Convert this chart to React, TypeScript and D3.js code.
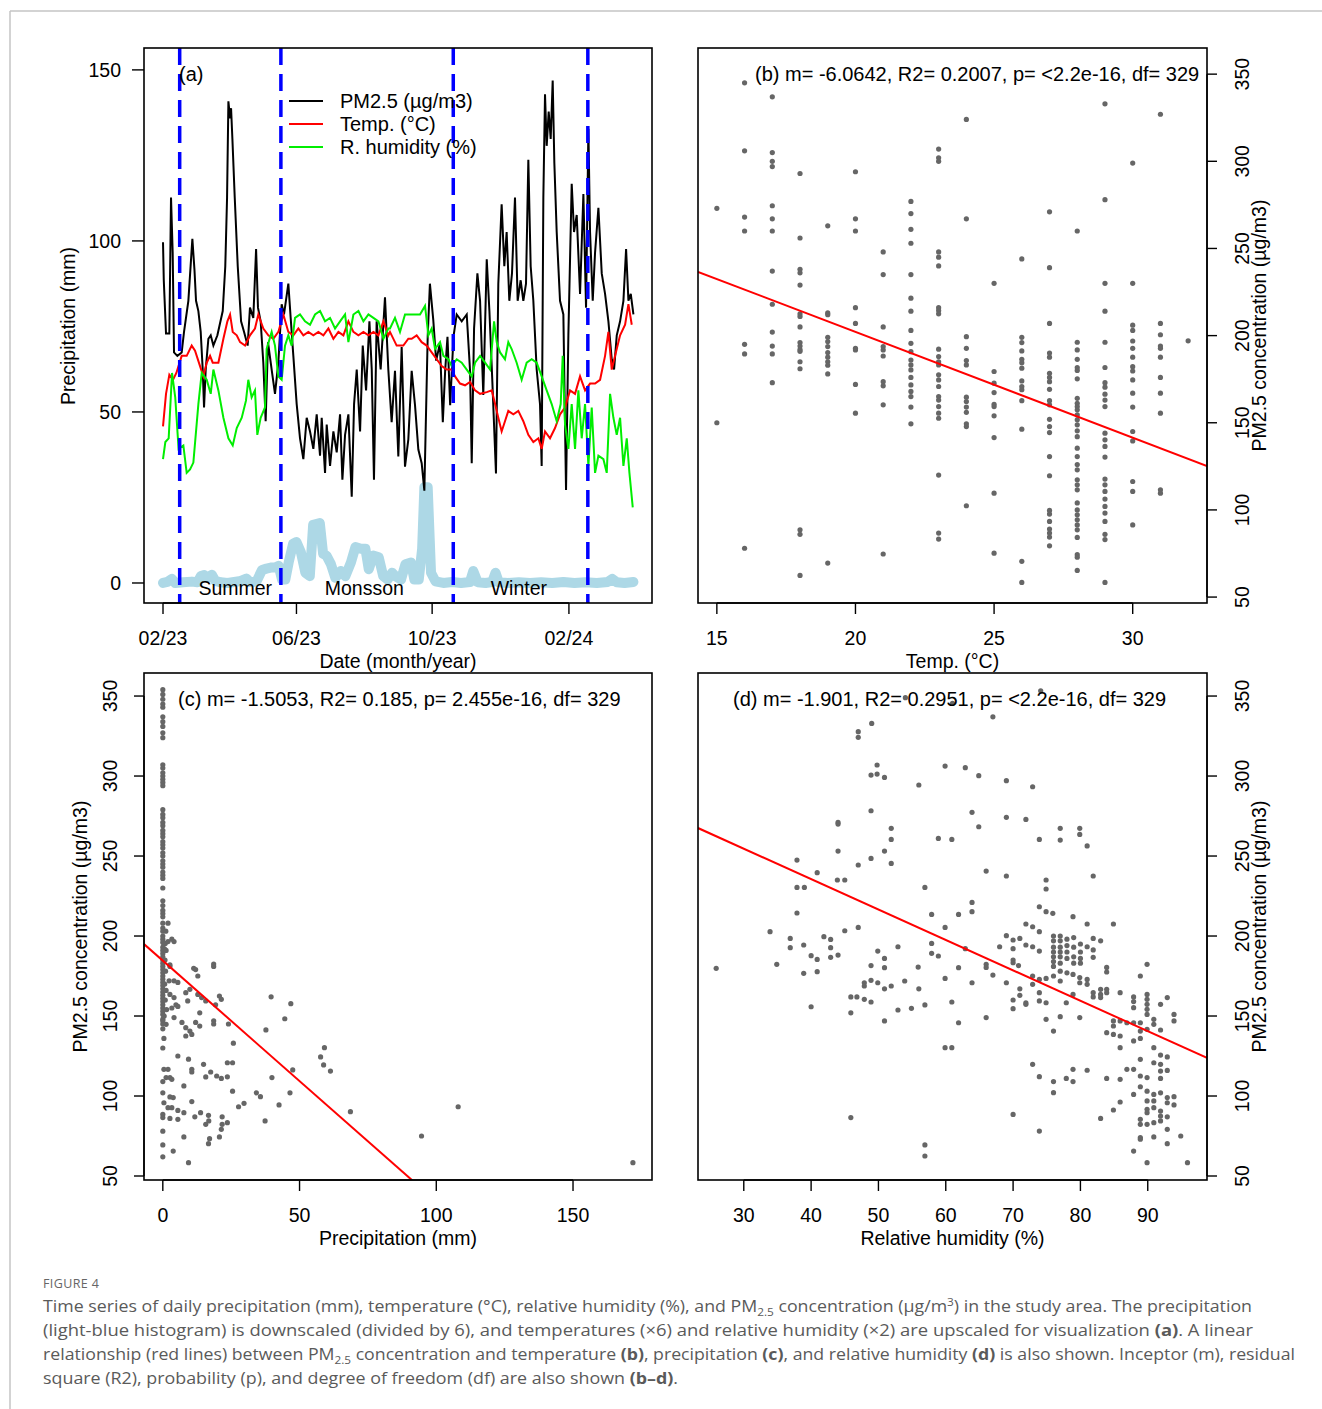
import React from "react";
import * as d3 from "d3";

const FONT = "'Liberation Sans', Arial, Helvetica, sans-serif";
const DAY = 864e5;
const START = Date.UTC(2023, 1, 1);

// (a) daily series, [days since 1 Feb 2023, plotted value]
const pm25Series = [
  [0, 99.6], [0.7, 88.5], [2.7, 72.9], [5.7, 72.9], [7.2, 112.7], [8.7, 96.6], [9.9, 67.4], [12.9, 66.4],
  [16.8, 67.4], [18.9, 73.4], [22.8, 82.5], [26.4, 100.6], [28.3, 91.5], [29.7, 82.5], [31.8, 79.5],
  [33.9, 73.4], [35.7, 62.4], [36.9, 51.3], [38.4, 62.4], [40.8, 71.4], [42.9, 72.4], [45.3, 69.4],
  [48.9, 72.4], [53.7, 79.5], [56, 92.6], [57.6, 112.7], [58.8, 140.8], [60.3, 135.8], [61.2, 138.8],
  [62.4, 129.8], [64.5, 112.7], [67.2, 92.6], [70.2, 76.5], [72.9, 73.4], [76.1, 69.4], [78.2, 80.5],
  [81.2, 77.5], [83.7, 97.6], [85.4, 80.5], [87.8, 76.5], [90.2, 64.4], [92.3, 47.3], [94.4, 70.4],
  [97.7, 62.4], [100.7, 55.3], [103.7, 64.4], [106.7, 81.5], [108.8, 78.5], [112.7, 87.5], [114.8, 77.5],
  [117.2, 66.4], [120.2, 52.3], [123.2, 42.3], [126.2, 36.2], [129.2, 48.3], [132.2, 44.3], [135.2, 39.2],
  [138.2, 49.3], [141.2, 37.2], [142.7, 48.3], [145.7, 32.2], [147.2, 46.3], [150.2, 34.2], [153.2, 44.3],
  [156.2, 38.2], [159.2, 49.3], [161.3, 30.2], [163.7, 43.3], [166.7, 49.3], [169.7, 25.2], [171.8, 52.3],
  [174.2, 62.4], [177.2, 44.3], [179.6, 69.4], [182.6, 56.3], [185.6, 76.5], [187.7, 62.4], [189.7, 30.2],
  [192.1, 76.5], [195.7, 62.4], [199.6, 83.5], [202.6, 62.4], [205.6, 47], [208.6, 62], [211.6, 37],
  [214.6, 69], [217.6, 34], [220.6, 42], [223.6, 62], [226.6, 52], [229.6, 39], [232.6, 35], [235, 27],
  [238, 72], [240, 87.5], [243, 77], [245.6, 65], [249, 70], [251.6, 47], [253.7, 62], [255.8, 72],
  [258.2, 52], [261.2, 72], [264.1, 78.5], [268.6, 76.5], [273.1, 78.5], [276.1, 62], [277.6, 35],
  [279.7, 74.4], [282.7, 90.5], [285.1, 82.5], [288, 55], [291.1, 94.6], [293.5, 79.5], [296, 60],
  [299.4, 32], [301.5, 87.5], [304.5, 110.7], [306.9, 92.6], [309, 102.6], [311.4, 82.5], [313.8, 90.5],
  [316.5, 112.7], [318.9, 82.5], [321.6, 88.5], [324, 82.5], [326.4, 87.5], [328.5, 123.7], [330.6, 92.6],
  [333, 82.5], [336, 62.4], [339, 52.3], [340.5, 34.2], [342, 112.7], [343.5, 142.9], [345, 127.8],
  [346.8, 137.8], [348.6, 129.8], [350.4, 146.9], [351.9, 122.7], [354, 102.6], [357, 82.5], [360, 78.5],
  [362.4, 27.2], [364.5, 72.4], [367.5, 116.7], [369.6, 102.6], [372, 107.6], [375, 84.5], [378, 113.7],
  [380.4, 80.5], [382.5, 132.8], [384, 102.6], [386.4, 82.5], [388.5, 96.6], [391.5, 109.7], [394.5, 90.5],
  [397.5, 84.5], [400.5, 76.5], [403.5, 65.4], [405.6, 62.4], [408, 72.4], [411, 76.5], [414, 82.5],
  [416.4, 97.6], [418.5, 82.5], [420.6, 84.5], [423, 78.5],
];

const tempSeries = [
  [0, 45.8], [2.7, 55.3], [5.7, 60.9], [9, 59.4], [12, 61.4], [16.8, 66.4], [21.3, 66.4], [25.8, 69.4],
  [28.8, 67.9], [33.3, 63.4], [36.3, 60.4], [39.3, 64.4], [42.3, 66.4], [44.7, 64.4], [49.8, 64.4],
  [54.3, 71.4], [57.9, 76.5], [60.3, 78.5], [62.7, 73.4], [66.3, 72.4], [69.3, 70.4], [73.8, 69.4],
  [78.2, 72.4], [82.7, 74.4], [85.7, 78.5], [90.2, 74.4], [94.7, 72.4], [99.2, 71.4], [103.7, 73.4],
  [108.2, 78.5], [112.7, 73.4], [117.2, 72.4], [121.7, 74.4], [126.2, 72.4], [130.7, 73.4], [135.2, 72.4],
  [139.7, 73.4], [144.2, 72.4], [148.7, 74.4], [153.2, 71.4], [157.7, 73.4], [162.2, 72.4], [166.7, 76.5],
  [171.2, 73.4], [175.7, 72.4], [180.2, 73.4], [184.7, 72.4], [189.2, 73.4], [193.7, 72.4], [198.2, 76.5],
  [202.6, 72.4], [204.1, 73.4], [210.1, 69.4], [216.1, 69.4], [220.6, 71.4], [223.6, 71.4], [228.1, 72.4],
  [232.6, 70.4], [237.1, 69.4], [241.6, 67.4], [246.1, 65.4], [250.6, 63.4], [255.1, 62.4], [259.6, 62.4],
  [262.6, 60.4], [267.1, 58.3], [271.6, 57.8], [276.1, 58.8], [280.6, 56.3], [285.1, 55.3], [291.1, 55.8],
  [295.6, 56.3], [298.6, 52.3], [301.5, 48.3], [304.5, 44.3], [307.5, 47.3], [310.5, 50.3], [315, 49.3],
  [319.5, 50.3], [324, 47.3], [328.5, 43.3], [333, 41.2], [337.5, 42.3], [340.5, 39.2], [343.5, 44.3],
  [348, 42.3], [352.5, 45.3], [357, 49.3], [361.5, 51.3], [366, 56.3], [370.5, 55.3], [375, 60.4],
  [379.5, 56.3], [384, 58.3], [388.5, 58.3], [393, 59.4], [397.5, 66.4], [400.5, 73.4], [403.5, 62.4],
  [406.5, 66.4], [411, 72.4], [415.5, 75.5], [418.5, 81.5], [421.5, 75.5],
];

const humiditySeries = [
  [0, 36.2], [2.1, 41.2], [5.1, 42.3], [8.1, 61.4], [11, 54.3], [14, 39.2], [18.3, 40.2], [21.3, 32.2],
  [24.3, 33.2], [27.3, 35.2], [31.8, 52.3], [34.8, 61.4], [39.3, 59.4], [42.9, 55.3], [45.3, 62.4],
  [49.8, 56.3], [54.3, 48.3], [58.8, 42.3], [62.7, 40.2], [66.3, 45.3], [70.8, 48.3], [74.6, 53.3],
  [76.7, 59.4], [79.7, 54.3], [82.7, 56.3], [84.8, 43.3], [87.8, 48.3], [91.7, 51.3], [93.2, 68.4],
  [97.7, 73.4], [100.7, 69.4], [103.7, 60.4], [106.7, 59.4], [109.7, 69.4], [112.7, 72.4], [115.7, 69.4],
  [118.7, 77.5], [123.2, 78.5], [127.7, 76.5], [132.2, 75.5], [136.7, 78.5], [141.2, 79.5], [145.7, 76.5],
  [150.2, 77.5], [154.7, 74.4], [159.2, 76.5], [163.7, 78.5], [166.7, 70.4], [171.2, 78.5], [175.7, 79.5],
  [180.2, 76.5], [184.7, 78.5], [189.2, 77.5], [193.7, 76.5], [198.2, 71.4], [202.6, 74.4], [204.1, 74.4],
  [208.6, 77.5], [213.1, 73.4], [217.6, 78.5], [222.1, 78.5], [226.6, 78.5], [231.1, 78.5], [235.6, 81],
  [238.6, 72.4], [241.6, 74.4], [244.6, 68.4], [249.1, 70.4], [252.1, 66.4], [256.6, 65.4], [259.6, 63.4],
  [264.1, 65.4], [268.6, 64.4], [273.1, 62.4], [277.6, 60.4], [280.6, 64.4], [285.1, 66.4], [289.6, 64.4],
  [294.1, 62.4], [297.7, 76.5], [300.1, 70.4], [303.1, 67.4], [307.5, 65.4], [310.5, 70.4], [313.5, 68.4],
  [318, 64.4], [322.5, 59.4], [327, 64.4], [331.5, 65.4], [336, 64.4], [340.5, 60.4], [345, 56.3],
  [349.5, 52.3], [354, 47.3], [357.6, 52.3], [359.4, 66.4], [361.5, 46.3], [364.5, 39.2], [367.5, 52.3],
  [370.5, 39.2], [373.5, 56.3], [376.5, 42.3], [379.5, 52.3], [382.5, 34.2], [385.5, 51.3], [388.5, 32.2],
  [391.5, 37.2], [396, 36.2], [399, 32.2], [402, 55.3], [405, 48.3], [408, 43.3], [411, 48.3], [414, 34.2],
  [417, 42.3], [419.4, 32.2], [422.4, 22.1],
];

const precipSeries = [
  [0, 0], [4, 0.3], [8, 1.2], [11, 0], [18, 0.2], [26, 0.4], [31, 0.2], [34, 2], [37, 2.3], [40, 1.6],
  [44, 2.4], [47, 0.6], [52, 0.2], [58, 0], [64, 0.3], [70, 0.6], [75, 1.3], [78, 0.3], [84, 0.4],
  [89, 3.8], [93, 4.2], [97, 4.5], [101, 4.6], [104, 5], [107, 1], [110, 1], [113, 6], [117, 11.5],
  [120, 12], [124, 9], [128, 3], [132, 2], [135, 17], [141, 17.5], [144, 8.5], [147, 8], [151, 5.5],
  [155, 1.5], [160, 3.5], [164, 2], [169, 6], [173, 10.5], [178, 10], [182, 10], [185, 4], [189, 8],
  [194, 7.5], [198, 2], [202, 1], [206, 3], [209, 2], [214, 1], [218, 5.5], [223, 6], [226, 1], [230, 1],
  [233, 10], [235, 28], [238, 28], [241, 3], [245, 0.5], [252, 0], [260, 0.3], [268, 0], [276, 0.3],
  [279, 3.5], [283, 0.2], [290, 0], [296, 0.3], [299, 3], [302, 0.2], [310, 0], [320, 0.2], [330, 0],
  [340, 0.2], [350, 0], [360, 0.3], [370, 0], [380, 0.2], [390, 0], [400, 0.3], [404, 1.2], [408, 0.2],
  [415, 0], [423, 0.3],
];

const seasonBreaks = ["2023-02-16", "2023-05-18", "2023-10-20", "2024-02-18"];
const monthTicks = ["2023-02-01", "2023-06-01", "2023-10-01", "2024-02-01"];
const monthLabels = ["02/23", "06/23", "10/23", "02/24"];
const seasonNames = ["Summer", "Monsson", "Winter"];
const seasonLabelDates = ["2023-04-07", "2023-08-01", "2023-12-18"];
const seasonLabelLevel = -3.4;
const precipTicks = [0, 50, 100, 150];
const legendItems = [
  { label: "PM2.5 (µg/m3)", color: "#000000" },
  { label: "Temp. (°C)", color: "#ff0000" },
  { label: "R. humidity (%)", color: "#00ee00" },
];

// (b) temperature (°C) → PM2.5 values observed at that temperature
const tempGroups: [number, number[]][] = [
  [15, [273, 150]],
  [16, [345, 306, 268, 260, 195, 189.5, 78]],
  [17, [337, 305, 300, 297, 274.5, 267, 260, 237, 218, 202, 194, 189.5, 173]],
  [18, [293, 256, 238, 236, 229, 212.5, 211, 205, 196, 194, 192, 191, 185, 181, 88.6, 86, 62.4]],
  [19, [263, 213, 212, 199, 196.6, 193.7, 190.3, 187.6, 185, 183, 178, 69.5]],
  [20, [294, 267, 260, 216, 207, 192.7, 191.8, 172, 155.5]],
  [21, [248, 235, 205, 193.7, 191.8, 188.3, 173.6, 171.2, 160.3, 74.7]],
  [22, [277, 270, 261, 253, 235, 221.5, 214, 203, 195.6, 190.8, 186, 183.2, 180.3, 176, 171.7, 168, 165, 159, 149.4]],
  [23, [307, 302, 300, 248, 245, 240, 216, 214.4, 212.5, 192.2, 188, 185, 183.2, 177.5, 174.6, 170.8, 165, 163, 159.3, 155.5, 152.6, 120, 86.7, 83.3]],
  [24, [324, 267, 199.4, 192.7, 185.7, 183.2, 164.7, 162.2, 159, 156, 149.4, 147.8, 102.4]],
  [25, [230, 179.4, 172.7, 167.3, 160.6, 159.3, 154, 141.5, 109.6, 75.2]],
  [26, [244, 199, 196, 191.2, 186.4, 184.5, 181.3, 174, 170.8, 169, 162.7, 146.3, 70.5, 58.4]],
  [27, [271, 239, 207, 190, 187.6, 178.4, 176, 173.6, 169.2, 162.7, 160.3, 152, 147.8, 144.4, 130.6, 119.6, 99.7, 97.6, 93.4, 89, 86.7, 84.4, 79.4]],
  [28, [260, 196.2, 191.8, 186.4, 181.7, 180, 175.2, 164, 161.2, 159.3, 157.4, 154.5, 151.7, 148.8, 145.4, 142, 135.4, 130.6, 126, 123, 117.3, 114.4, 111.5, 104, 100, 97.2, 94.3, 91.4, 88.6, 84.2, 74.3, 72.9, 65.3]],
  [29, [333, 278, 230, 214, 196.2, 181.7, 173, 170.4, 166.4, 163, 159.3, 144, 140.2, 136.4, 130.3, 117.7, 114.4, 110.6, 106.2, 102, 98.2, 93.4, 86, 83, 58.4]],
  [30, [299, 230, 206, 203, 196.9, 192.7, 187.6, 182.2, 179.7, 174.6, 167, 159, 145, 139.6, 116.3, 110.6, 91.4]],
  [31, [327, 207, 200.5, 194, 192.7, 187.6, 176, 167, 155.5, 111.5, 109.6]],
  [32, [197]],
];

// (c) days without rain, PM2.5
const dryDayPm = [
  354, 351, 348, 345, 343, 337, 334, 331, 327, 324, 307, 305, 302, 300, 298, 296, 294, 279, 276, 274, 271,
  269, 266, 264, 262, 259, 257, 255, 252, 250, 247, 245, 243, 240, 238, 236, 230, 222, 219, 216, 214, 212,
  208, 205, 203, 200, 198, 196, 193, 191, 189, 187, 185, 183, 181, 179, 177, 175, 173, 171, 169, 167, 165,
  163, 161, 159, 157, 155, 153, 151, 148, 146.9, 145, 142, 130, 109, 102, 88.5, 86.5, 78, 69.4, 62,
];
// (c) rainy days, [precipitation mm, PM2.5]
const rainyDayPm = [
  [0.6, 192], [0.8, 185], [1, 178], [0.7, 170], [1.2, 166], [0.9, 160], [1.4, 154], [0.5, 150], [1.1, 203],
  [1.9, 208], [0.9, 195.4], [1.9, 196.5], [3.3, 198], [4.1, 196.5], [1.2, 191], [2.6, 182], [11.3, 179.8],
  [18.6, 182.5], [2.6, 181], [2.3, 172], [4.1, 172], [5.5, 171], [2.6, 163.5], [4.1, 161.5], [4.8, 157],
  [3.3, 155], [5.5, 156], [4.1, 149], [7, 146], [8.4, 142.7], [8.4, 137.5], [9.9, 140.6], [10.6, 138.5],
  [12, 146], [13.5, 143.7], [13.5, 152], [12.8, 163.5], [12, 179], [12.8, 175], [8.4, 164.6], [9.9, 166.7],
  [9.1, 159.4], [18.6, 181], [14.2, 161.5], [15.7, 159.4], [19.3, 157], [20.7, 162.5], [21.4, 160.4],
  [18.6, 147], [18.6, 145], [24, 145], [25.8, 133], [5.5, 125], [9.4, 123], [10.6, 116.7], [10.6, 115],
  [14.9, 119.8], [15.7, 111.9], [17.5, 115], [19.7, 112.5], [21.4, 111], [23.6, 112], [23.6, 120.8],
  [25.5, 120.8], [0.4, 116.7], [1.9, 116.7], [1.2, 111.5], [2.6, 111.5], [3.3, 110.4], [7.7, 106.3],
  [2.6, 99.4], [3.8, 99], [0.4, 95.8], [1.9, 92.7], [3.3, 92.7], [5.5, 91], [7.7, 89.6], [10.6, 96.5],
  [2.6, 86], [5.5, 85.4], [11.7, 87], [13.8, 89.6], [16.7, 87.9], [16.8, 84.4], [15.7, 82.3], [21.7, 87],
  [21.7, 82.3], [23.6, 83.3], [21.4, 79.2], [20.7, 74.4], [17.1, 73.3], [16.7, 70.2], [7.7, 74.4],
  [3.8, 65.6], [9.4, 58.3], [25.5, 103], [27.7, 93.3], [29.7, 95.4], [34.2, 102], [35.7, 99.6], [39.6, 162],
  [37.7, 141.3], [39.9, 111.5], [37.4, 84.4], [42.5, 94.4], [44.6, 148.3], [46.8, 157.7], [47.5, 116.3],
  [46.5, 102], [57.7, 124.4], [59.1, 130.2], [58.8, 119.4], [61.3, 115.6], [68.6, 90.2], [94.6, 75],
  [108, 93.3], [171.9, 58.3], [0.4, 136], [1.2, 144.8],
];

// (d) [relative humidity %, PM2.5]
const humidityPm = [
  [49, 332.9], [47, 327.7], [47, 324.2], [67, 337], [61, 345.4], [54, 349], [74.1, 353.3], [49.8, 306.9],
  [48.9, 300.6], [49.8, 301.2], [50.9, 299.1], [56, 294.4], [59.9, 306.2], [62.9, 305.2], [64.9, 300.2],
  [69, 297.1], [72.9, 293.3], [48.9, 278.3], [63.9, 277.3], [69, 274.2], [71.9, 272.9], [44, 271], [44, 270],
  [51.9, 267.3], [64.9, 268.3], [77, 267.3], [77, 260], [79.9, 267.3], [79.9, 263.5], [51.9, 260.4],
  [58.9, 261], [60.9, 260.4], [73.9, 260.4], [81, 256.3], [50.9, 253.1], [44, 253.1], [37.9, 247.5],
  [48.9, 248.5], [47, 244.4], [51.9, 245.4], [40.9, 239.6], [66, 240.6], [69, 237.5], [81.9, 237.5],
  [43.9, 235], [45, 235], [37.9, 230.4], [39, 230.4], [56.9, 230.4], [74.9, 235], [74.9, 229.4],
  [37.9, 214.4], [63.9, 221], [63.9, 215.2], [57.9, 213.5], [61.9, 213.5], [73.9, 218.3], [74.9, 215.2],
  [75.9, 214.2], [78.9, 212.1], [33.9, 202.7], [36.9, 198.5], [36.9, 192.7], [38.9, 194.4], [41.9, 199.6],
  [42.9, 197.9], [42.9, 192.7], [45, 203.3], [47, 205.4], [59.9, 205.4], [57.9, 195.4], [57.9, 189.2],
  [52.9, 193.3], [49.9, 190.6], [40, 187.7], [40.9, 185.4], [42.9, 186.7], [44, 188.1], [58.9, 187.5],
  [62.9, 192.1], [69, 200.2], [71, 198.5], [70, 197.5], [70, 192.1], [68, 193.3], [71.9, 207.5],
  [72.9, 205.8], [73.9, 202.7], [71.9, 194.4], [72.9, 193.3], [73.9, 190.6], [76, 200], [76, 197], [76, 193],
  [76, 190], [76, 187], [76, 184], [76, 181], [77, 200], [77, 197], [77, 193], [77, 190], [77, 187], [77, 183],
  [78, 198], [78, 194], [78, 190], [78, 186], [79, 199], [79, 193], [79, 187], [79, 183], [80, 195], [80, 190],
  [80, 186], [80, 183], [81, 193.3], [81, 207.5], [81.9, 198.5], [83, 197], [84.9, 207.5], [89.9, 182.3],
  [25.9, 179.8], [34.9, 182.3], [48.9, 181.5], [50.9, 180.2], [55.9, 180.6], [61.9, 180.2], [66, 182.3],
  [66, 180.4], [70.8, 181.5], [81.9, 186.7], [81.9, 191.3], [83.9, 180.4], [70, 185], [38.9, 176.7],
  [40.9, 177.7], [40, 155.8], [45.9, 161.9], [45.9, 152], [46.8, 161.9], [47.9, 160.4], [47.9, 170.8],
  [47.9, 168.75], [48.9, 172.3], [49.9, 170.8], [50.9, 186], [51.9, 168.75], [50.9, 167], [48.9, 158.75],
  [50.9, 146.9], [52.9, 153.75], [53.9, 171.9], [54.9, 154.8], [56, 167], [56.9, 156.9], [59.9, 173.5],
  [60.9, 158.75], [61.9, 145.8], [59.9, 130.2], [60.9, 130.2], [63.9, 170.8], [67, 175.6], [66, 149],
  [69, 170.8], [70, 183.3], [70, 160], [70, 154.6], [71, 167], [71, 162.9], [71.9, 158.3], [71.9, 157.3],
  [72.9, 175], [72.9, 169.8], [73.9, 172.9], [73.9, 164.6], [73.9, 159.4], [74.9, 158.3], [74.9, 173.5],
  [76, 175], [77, 178], [78, 177], [77, 171.9], [74.9, 147.9], [76, 140.6], [77, 149.6], [77.9, 158.3],
  [78.9, 176], [79.9, 174], [79.9, 170.8], [81, 172.9], [81, 169.8], [78.9, 163.5], [79.9, 149],
  [81.9, 164.6], [83, 166.7], [83.9, 166.7], [81.9, 161.9], [83, 163.5], [83.9, 164.6], [83.9, 177.5],
  [83, 161.5], [84.9, 146.9], [84.9, 143.75], [85.9, 164.6], [85.9, 146.9], [86.9, 145.8], [87.9, 161.9],
  [87.9, 159], [87.9, 155.2], [88.9, 175], [89.9, 163.5], [89.9, 160.4], [89.9, 157.3], [89.9, 154.2],
  [89.9, 151], [90.9, 147.9], [90.9, 144.8], [91.9, 157.3], [91.9, 141.25], [92.9, 161.5], [93.9, 151],
  [93.9, 146.9], [87.9, 145.8], [88.9, 145.8], [88.9, 140.6], [89.9, 141.7], [83.9, 139.6], [84.9, 138.5],
  [85.9, 137.5], [85.9, 130.2], [88.9, 136], [87.9, 134.4], [90.9, 130.2], [72.9, 119.8], [73.9, 112.1],
  [76, 109], [76, 102.1], [77.9, 111], [78.9, 109], [78.9, 116.7], [81, 116.1], [83.9, 111], [85.9, 110.4],
  [86.9, 116.7], [87.9, 116.7], [88.9, 122.9], [88.9, 112.5], [89.9, 111.5], [90.9, 120.8], [91.9, 125.6],
  [91.9, 119.8], [91.9, 115.6], [91.9, 111], [92.9, 124.4], [92.9, 116], [83, 86], [84.9, 91.25],
  [85.9, 96.25], [87.9, 101], [88.9, 105.8], [89.9, 103], [89.9, 96.9], [89.9, 91.7], [89.9, 89.6],
  [90.9, 101], [90.9, 96.9], [90.9, 92.7], [90.9, 83.3], [90.9, 74.4], [91.9, 102], [91.9, 90.6],
  [91.9, 87.5], [91.9, 84.4], [92.9, 99], [92.9, 95.8], [92.9, 87], [92.9, 79.2], [92.9, 70.2], [93.9, 99.6],
  [93.9, 94.4], [88.9, 85.4], [88.9, 82.3], [89.9, 82.3], [88.9, 74], [88.9, 73], [87.9, 65.6], [89.9, 58.3],
  [94.9, 75], [95.9, 58.3], [45.9, 86.5], [56.9, 69.4], [56.9, 62.5], [70, 88.5], [73.9, 78.1],
];

// fitted lines, PM2.5 = intercept + slope * x
const fitTemp = { intercept: 323.4, slope: -6.0642 };
const fitPrecip = { intercept: 184.6, slope: -1.5053 };
const fitHumidity = { intercept: 311.6, slope: -1.901 };

const pmTicks = [50, 100, 150, 200, 250, 300, 350];
const tempTicks = [15, 20, 25, 30];
const precipMmTicks = [0, 50, 100, 150];
const humidityTicks = [30, 40, 50, 60, 70, 80, 90];

const FS = 19.5; // ticks and axis titles
const FS_NOTE = 20; // legend and panel notes
const utc = (s: string) => new Date(s + "T00:00:00Z");
const dayDate = (d: number) => new Date(START + d * DAY);

function PanelA() {
  const L = 144, R = 652, T = 48, B = 603;
  const x = d3.scaleUtc().domain([dayDate(-17.09), dayDate(439.7)]).range([L, R]);
  const y = d3.scaleLinear().domain([-5.85, 156.4]).range([B, T]);
  const ln = d3.line<number[]>().x((d) => x(dayDate(d[0]))).y((d) => y(d[1]));
  return (
    <g fontFamily={FONT} fontSize={FS}>
      <defs>
        <clipPath id="clipA"><rect x={L} y={T} width={R - L} height={B - T} /></clipPath>
      </defs>
      <g clipPath="url(#clipA)">
        <path d={ln(precipSeries) || ""} fill="none" stroke="#add8e6" strokeWidth={10} strokeLinejoin="round" strokeLinecap="round" />
        <path d={ln(pm25Series) || ""} fill="none" stroke="#000" strokeWidth={2} />
        <path d={ln(tempSeries) || ""} fill="none" stroke="#ff0000" strokeWidth={2} />
        <path d={ln(humiditySeries) || ""} fill="none" stroke="#00ee00" strokeWidth={2} />
      </g>
      {seasonNames.map((s, i) => (
        <text key={s} x={x(utc(seasonLabelDates[i]))} y={y(seasonLabelLevel)} textAnchor="middle">{s}</text>
      ))}
      {seasonBreaks.map((s) => (
        <line key={s} x1={x(utc(s))} x2={x(utc(s))} y1={T} y2={B} stroke="#0000ff" strokeWidth={3.5} strokeDasharray="17 9" />
      ))}
      <text x={179} y={81} fontSize={FS_NOTE}>(a)</text>
      {legendItems.map((it, i) => (
        <g key={it.label}>
          <line x1={289} x2={323} y1={101 + i * 23} y2={101 + i * 23} stroke={it.color} strokeWidth={2} />
          <text x={340} y={108 + i * 23} fontSize={FS_NOTE}>{it.label}</text>
        </g>
      ))}
      <rect x={L} y={T} width={R - L} height={B - T} fill="none" stroke="#000" strokeWidth={1.6} />
      {precipTicks.map((t) => (
        <g key={t}>
          <line x1={132} x2={L} y1={y(t)} y2={y(t)} stroke="#000" strokeWidth={1.4} />
          <text x={121} y={y(t)} dy="0.35em" textAnchor="end">{t}</text>
        </g>
      ))}
      {monthTicks.map((m, i) => (
        <g key={m}>
          <line x1={x(utc(m))} x2={x(utc(m))} y1={B} y2={B + 11} stroke="#000" strokeWidth={1.4} />
          <text x={x(utc(m))} y={645} textAnchor="middle">{monthLabels[i]}</text>
        </g>
      ))}
      <line x1={x(utc(monthTicks[0]))} x2={x(utc(monthTicks[3]))} y1={B} y2={B} stroke="#000" strokeWidth={1.4} />
      <text transform="translate(75,326) rotate(-90)" textAnchor="middle">Precipitation (mm)</text>
      <text x={398} y={668} textAnchor="middle">Date (month/year)</text>
    </g>
  );
}

type ScatterProps = {
  id: string;
  L: number; R: number; T: number; B: number;
  xDomain: [number, number];
  yDomain: [number, number];
  points: number[][];
  fit: { intercept: number; slope: number };
  xTicks: number[];
  side: "left" | "right";
  xTitle: string;
  note: string;
  noteX: number;
};

function Scatter(p: ScatterProps) {
  const x = d3.scaleLinear().domain(p.xDomain).range([p.L, p.R]);
  const y = d3.scaleLinear().domain(p.yDomain).range([p.B, p.T]);
  const fitLine = d3.line<number>().x((v) => x(v)).y((v) => y(p.fit.intercept + p.fit.slope * v));
  const mid = (p.T + p.B) / 2;
  const axisX = p.side === "right" ? p.R : p.L;
  const dir = p.side === "right" ? 1 : -1;
  const labelX = p.side === "right" ? p.R + 35 : p.L - 34;
  const titleX = p.side === "right" ? p.R + 59 : p.L - 57;
  const yTicks = pmTicks.filter((t) => t >= p.yDomain[0] && t <= p.yDomain[1]);
  return (
    <g fontFamily={FONT} fontSize={FS}>
      <defs>
        <clipPath id={p.id}><rect x={p.L} y={p.T} width={p.R - p.L} height={p.B - p.T} /></clipPath>
      </defs>
      <g clipPath={`url(#${p.id})`}>
        {p.points.map((d, i) => (
          <circle key={i} cx={x(d[0])} cy={y(d[1])} r={2.6} fill="#666" />
        ))}
        <path d={fitLine(p.xDomain) || ""} stroke="#ff0000" strokeWidth={2} fill="none" />
      </g>
      <text x={p.noteX} y={p.T + 33} fontSize={FS_NOTE}>{p.note}</text>
      <rect x={p.L} y={p.T} width={p.R - p.L} height={p.B - p.T} fill="none" stroke="#000" strokeWidth={1.6} />
      <line x1={axisX} x2={axisX} y1={y(yTicks[0])} y2={y(yTicks[yTicks.length - 1])} stroke="#000" strokeWidth={1.4} />
      {yTicks.map((t) => (
        <g key={t}>
          <line x1={axisX} x2={axisX + dir * 10} y1={y(t)} y2={y(t)} stroke="#000" strokeWidth={1.4} />
          <text transform={`translate(${labelX},${y(t)}) rotate(-90)`} dy="0.35em" textAnchor="middle">{t}</text>
        </g>
      ))}
      <line x1={x(p.xTicks[0])} x2={x(p.xTicks[p.xTicks.length - 1])} y1={p.B} y2={p.B} stroke="#000" strokeWidth={1.4} />
      {p.xTicks.map((t) => (
        <g key={t}>
          <line x1={x(t)} x2={x(t)} y1={p.B} y2={p.B + 11} stroke="#000" strokeWidth={1.4} />
          <text x={x(t)} y={p.B + 42} textAnchor="middle">{t}</text>
        </g>
      ))}
      <text transform={`translate(${titleX},${mid}) rotate(-90)`} textAnchor="middle">PM2.5 concentration (µg/m3)</text>
      <text x={(p.L + p.R) / 2} y={p.B + 65} textAnchor="middle">{p.xTitle}</text>
    </g>
  );
}

function Caption() {
  const lh = 24;
  const y0 = 1312;
  return (
    <g fontFamily="'Open Sans', 'Noto Sans', sans-serif" fill="#5a5a5a" fontSize={16.5}>
      <text x={43} y={1288} fontSize={12.5} letterSpacing={0.4} fill="#666">FIGURE 4</text>
      <text x={43} y={y0} textLength={1209} lengthAdjust="spacingAndGlyphs">
        Time series of daily precipitation (mm), temperature (°C), relative humidity (%), and PM
        <tspan dy={4} fontSize={11}>2.5</tspan>
        <tspan dy={-4}> concentration (µg/m</tspan>
        <tspan dy={-6} fontSize={11}>3</tspan>
        <tspan dy={6}>) in the study area. The precipitation</tspan>
      </text>
      <text x={43} y={y0 + lh} textLength={1210} lengthAdjust="spacingAndGlyphs">
        (light-blue histogram) is downscaled (divided by 6), and temperatures (×6) and relative humidity (×2) are upscaled for visualization{" "}
        <tspan fontWeight="bold">(a)</tspan>. A linear
      </text>
      <text x={43} y={y0 + 2 * lh} textLength={1252} lengthAdjust="spacingAndGlyphs">
        relationship (red lines) between PM
        <tspan dy={4} fontSize={11}>2.5</tspan>
        <tspan dy={-4}> concentration and temperature </tspan>
        <tspan fontWeight="bold">(b)</tspan>, precipitation <tspan fontWeight="bold">(c)</tspan>, and relative humidity{" "}
        <tspan fontWeight="bold">(d)</tspan> is also shown. Inceptor (m), residual
      </text>
      <text x={43} y={y0 + 3 * lh} textLength={635} lengthAdjust="spacingAndGlyphs">
        square (R2), probability (p), and degree of freedom (df) are also shown <tspan fontWeight="bold">(b–d)</tspan>.
      </text>
    </g>
  );
}

export default function App() {
  const tempPoints = tempGroups.flatMap(([t, vals]) => vals.map((v) => [t, v]));
  const precipPoints = [...dryDayPm.map((v) => [0, v]), ...rainyDayPm];
  return (
    <svg width={1322} height={1409} style={{ position: "absolute", left: 0, top: 0, background: "#fff" }}>
      <rect width={1322} height={1409} fill="#fff" />
      <line x1={10} x2={1322} y1={11} y2={11} stroke="#c4c4c4" strokeWidth={1.5} />
      <line x1={10} x2={10} y1={11} y2={1409} stroke="#c4c4c4" strokeWidth={1.5} />
      <PanelA />
      <Scatter
        id="clipB" L={698} R={1207} T={48} B={603}
        xDomain={[14.32, 32.68]} yDomain={[46.6, 365]}
        points={tempPoints} fit={fitTemp} xTicks={tempTicks} side="right"
        xTitle="Temp. (°C)" note="(b) m= -6.0642, R2= 0.2007, p= <2.2e-16, df= 329" noteX={755}
      />
      <Scatter
        id="clipC" L={144} R={652} T={673} B={1180}
        xDomain={[-6.88, 178.88]} yDomain={[47.5, 364.4]}
        points={precipPoints} fit={fitPrecip} xTicks={precipMmTicks} side="left"
        xTitle="Precipitation (mm)" note="(c) m= -1.5053, R2= 0.185, p= 2.455e-16, df= 329" noteX={178}
      />
      <Scatter
        id="clipD" L={698} R={1207} T={673} B={1180}
        xDomain={[23.2, 98.8]} yDomain={[47.5, 364.4]}
        points={humidityPm} fit={fitHumidity} xTicks={humidityTicks} side="right"
        xTitle="Relative humidity (%)" note="(d) m= -1.901, R2= 0.2951, p= <2.2e-16, df= 329" noteX={733}
      />
      <Caption />
    </svg>
  );
}
